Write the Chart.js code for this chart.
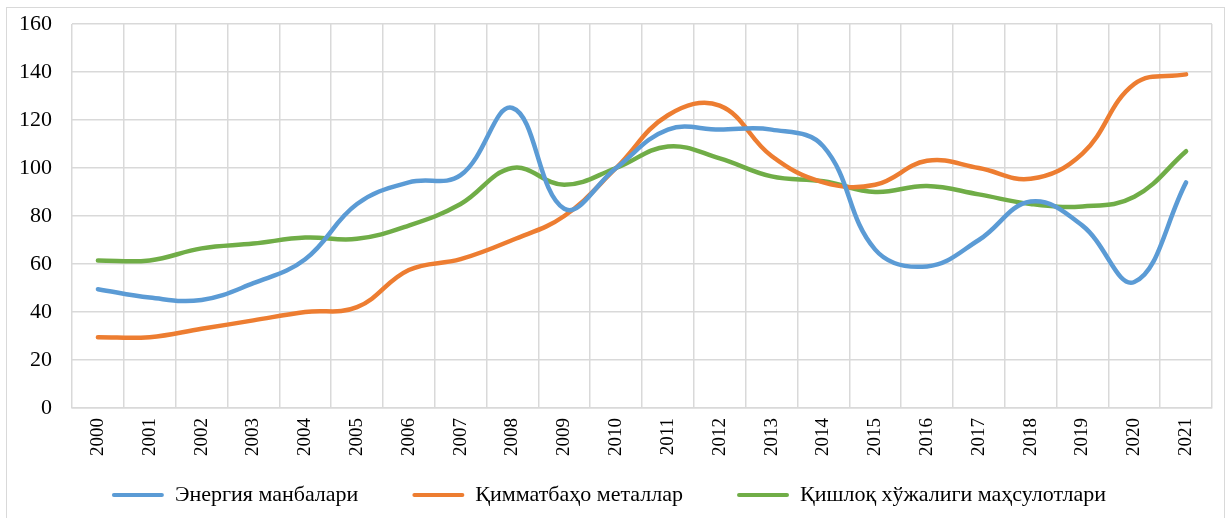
<!DOCTYPE html>
<html>
<head>
<meta charset="utf-8">
<script src="https://cdn.jsdelivr.net/npm/chart.js@4"></script>
<style>
  body { margin: 0; background: #fff; }
  #wrap { position: relative; width: 1230px; height: 518px; }
  #frame { position: absolute; left: 6px; top: 7px; width: 1219px; height: 515px; border: 1px solid #d9d9d9; box-sizing: border-box; pointer-events: none; }
</style>
</head>
<body>
<div id="wrap">
  <canvas id="chart" width="1230" height="518"></canvas>
  <div id="frame"></div>
</div>
<script>
const years = ["2000","2001","2002","2003","2004","2005","2006","2007","2008","2009","2010",
               "2011","2012","2013","2014","2015","2016","2017","2018","2019","2020","2021"]

const seriesNames = ["Энергия манбалари", "Қимматбаҳо металлар", "Қишлоқ хўжалиги маҳсулотлари"]

const energy   = [49.5, 46, 45, 52, 62, 85, 94, 97, 125, 83, 100, 116, 116, 116, 109, 66, 59, 70, 86, 76, 52.5, 94]
const metals   = [29.5, 29.5, 33, 36.5, 40, 42, 57.5, 62, 70, 80, 100, 122, 126, 105, 94, 93, 103, 100, 95.5, 106, 135, 139]
const agri     = [61.5, 61.5, 66.5, 68.5, 71, 70.5, 76, 85, 100, 93, 100, 109, 104, 96.5, 94.5, 90, 92.5, 89, 85, 84, 88, 107]

const yTicks = [0, 20, 40, 60, 80, 100, 120, 140, 160]

const colors = ["#5B9BD5", "#ED7D31", "#70AD47"]

const font = "'Liberation Serif', 'Times New Roman', serif"

// legend gap between items (the legend padding also sets its height, so keep that small)
const legendGap = "\u00a0".repeat(8)

function makeSet(i, data){
    return {
        label: seriesNames[i],
        data: data,
        borderColor: colors[i],
        backgroundColor: colors[i],
        borderWidth: 4.5,
        pointRadius: 0,
        tension: 0.4,
        borderCapStyle: "round",
        fill: false
    }
}

new Chart(document.getElementById("chart"), {
    type: "line",
    data: {
        labels: years,
        datasets: [makeSet(0, energy), makeSet(1, metals), makeSet(2, agri)]
    },
    options: {
        responsive: false,
        animation: false,
        layout: { padding: { left: 6, right: 18, top: 24, bottom: 2 } },
        plugins: {
            tooltip: { enabled: false },
            legend: {
                position: "bottom",
                labels: {
                    color: "#000",
                    font: { family: font, size: 22 },
                    boxWidth: 52,
                    boxHeight: 4,
                    padding: 10,
                    generateLabels: chart => chart.data.datasets.map((ds, i) => ({
                        text: i < 2 ? ds.label + legendGap : ds.label,
                        fillStyle: ds.borderColor,
                        strokeStyle: ds.borderColor,
                        lineWidth: 0,
                        borderRadius: 2,
                        fontColor: "#000",
                        datasetIndex: i
                    }))
                }
            }
        },
        scales: {
            x: {
                offset: true,
                grid: { offset: true, color: "#d9d9d9", lineWidth: 1.5, drawTicks: false },
                border: { color: "#d9d9d9", width: 1.5 },
                ticks: {
                    color: "#000",
                    font: { family: font, size: 19 },
                    minRotation: 90,
                    maxRotation: 90,
                    padding: 10,
                    autoSkip: false
                },
                afterFit: axis => { axis.height = 66 }
            },
            y: {
                min: 0,
                max: 160,
                grid: { color: "#d9d9d9", lineWidth: 1.5, drawTicks: false },
                border: { display: false },
                afterBuildTicks: axis => { axis.ticks = yTicks.map(v => ({ value: v })) },
                ticks: {
                    color: "#000",
                    font: { family: font, size: 22 },
                    padding: 20
                },
                afterFit: axis => {
                    axis.width = 66
                    axis.paddingTop = 0
                    axis.paddingBottom = 0
                }
            }
        }
    }
})
</script>
</body>
</html>
